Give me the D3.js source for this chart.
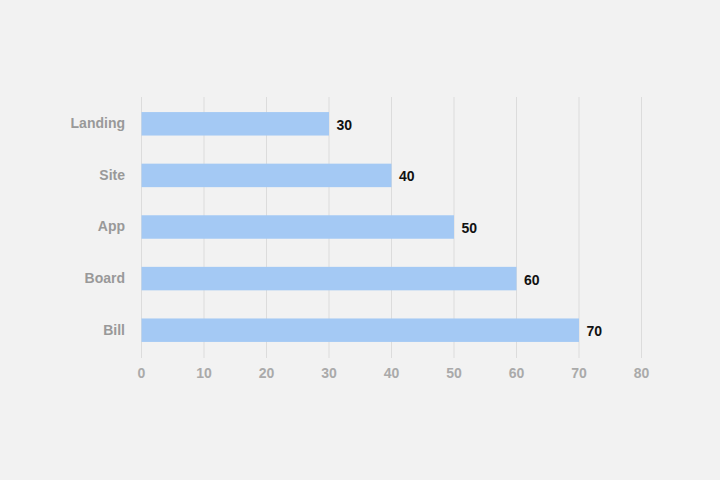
<!DOCTYPE html>
<html><head><meta charset="utf-8">
<script src="https://cdn.jsdelivr.net/npm/d3@7"></script>
<style>html,body{margin:0;padding:0;background:#f2f2f2;}svg{display:block;}</style>
</head><body>
<svg id="c" width="720" height="480"></svg>
<script>
const categories = ["Landing", "Site", "App", "Board", "Bill"];
const values = [30, 40, 50, 60, 70];
const xTicks = [0, 10, 20, 30, 40, 50, 60, 70, 80];

const svg = d3.select("#c");
svg.append("rect").attr("width",720).attr("height",480).attr("fill","#f2f2f2");
const x = d3.scaleLinear().domain([0,80]).range([141,641]);
const y = d3.scaleBand().domain(categories).range([98,356]).paddingInner(0.545).paddingOuter(0.2725);

const font = "Arial, 'Liberation Sans', Helvetica, sans-serif";
// grid
svg.append("g").selectAll("line").data(xTicks).join("line")
  .attr("x1",d=>x(d)+0.5).attr("x2",d=>x(d)+0.5).attr("y1",97).attr("y2",358)
  .attr("stroke","#dcdcdc").attr("stroke-width",1);
// bars
svg.append("g").selectAll("rect").data(values).join("rect")
  .attr("x",x(0)+0.5).attr("y",(d,i)=>y(categories[i]))
  .attr("width",d=>x(d)-x(0)).attr("height",y.bandwidth())
  .attr("fill","#a4c9f4");
// value labels
svg.append("g").selectAll("text").data(values).join("text")
  .attr("x",d=>x(d)+8).attr("y",(d,i)=>y(categories[i])+y.bandwidth()/2+1)
  .attr("dy","0.35em").attr("font-family",font).attr("font-weight","bold")
  .attr("font-size",14).attr("fill","#111").text(d=>d);
// y axis labels
const yAxis = d3.axisLeft(y).tickSize(0).tickPadding(16);
const gy = svg.append("g").attr("transform","translate(141,0)").call(yAxis);
gy.select(".domain").remove();
gy.selectAll("text").attr("font-family",font).attr("font-weight","bold").attr("font-size",14).attr("fill","#999");
// x axis labels
const xAxis = d3.axisBottom(x).tickValues(xTicks).tickSize(0).tickPadding(10);
const gx = svg.append("g").attr("transform","translate(0,358)").call(xAxis);
gx.select(".domain").remove();
gx.selectAll("text").attr("font-family",font).attr("font-weight","bold").attr("font-size",14).attr("fill","#aaa");
</script>
</body></html>
